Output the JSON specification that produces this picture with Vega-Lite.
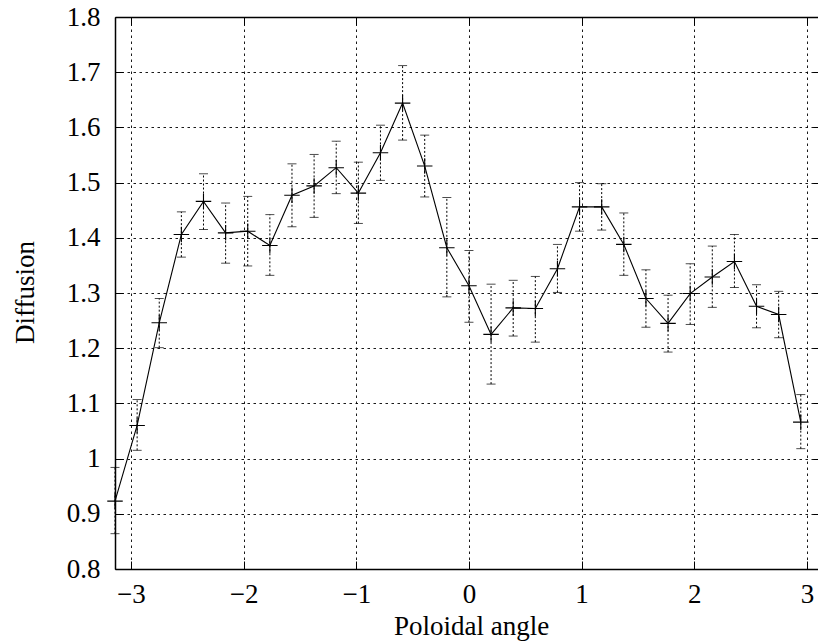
{
  "$schema": "https://vega.github.io/schema/vega-lite/v6.json",
  "width": 703,
  "height": 552,
  "autosize": {"type": "none"},
  "padding": {"left": 115, "top": 17, "right": 0, "bottom": 73},
  "background": "white",
  "config": {
    "view": {"stroke": null},
    "font": "Liberation Serif",
    "axis": {
      "labelFont": "Liberation Serif",
      "labelFontSize": 27,
      "labelColor": "black",
      "titleFont": "Liberation Serif",
      "titleFontSize": 27,
      "titleFontWeight": "normal",
      "titleColor": "black",
      "domainColor": "black",
      "domainWidth": 1.5,
      "tickColor": "black",
      "tickWidth": 1,
      "gridColor": "black",
      "gridWidth": 1,
      "gridOpacity": 0.9,
      "gridDash": [2.5, 3.5],
      "labelOverlap": false,
      "labelFlush": false,
      "labelBound": false
    }
  },
  "data": {
    "values": [
      {"x": -3.1416, "y": 0.923, "lo": 0.864, "hi": 0.984},
      {"x": -2.9452, "y": 1.060, "lo": 1.015, "hi": 1.107},
      {"x": -2.7489, "y": 1.246, "lo": 1.201, "hi": 1.290},
      {"x": -2.5525, "y": 1.406, "lo": 1.365, "hi": 1.447},
      {"x": -2.3562, "y": 1.466, "lo": 1.415, "hi": 1.516},
      {"x": -2.1598, "y": 1.409, "lo": 1.354, "hi": 1.463},
      {"x": -1.9635, "y": 1.412, "lo": 1.349, "hi": 1.475},
      {"x": -1.7671, "y": 1.386, "lo": 1.332, "hi": 1.442},
      {"x": -1.5708, "y": 1.477, "lo": 1.420, "hi": 1.534},
      {"x": -1.3744, "y": 1.494, "lo": 1.437, "hi": 1.551},
      {"x": -1.1781, "y": 1.527, "lo": 1.480, "hi": 1.575},
      {"x": -0.9817, "y": 1.481, "lo": 1.426, "hi": 1.537},
      {"x": -0.7854, "y": 1.554, "lo": 1.504, "hi": 1.604},
      {"x": -0.5890, "y": 1.644, "lo": 1.577, "hi": 1.712},
      {"x": -0.3927, "y": 1.530, "lo": 1.474, "hi": 1.586},
      {"x": -0.1963, "y": 1.382, "lo": 1.293, "hi": 1.473},
      {"x": 0.0, "y": 1.313, "lo": 1.247, "hi": 1.377},
      {"x": 0.1963, "y": 1.225, "lo": 1.135, "hi": 1.316},
      {"x": 0.3927, "y": 1.273, "lo": 1.222, "hi": 1.323},
      {"x": 0.5890, "y": 1.272, "lo": 1.211, "hi": 1.330},
      {"x": 0.7854, "y": 1.344, "lo": 1.301, "hi": 1.388},
      {"x": 0.9817, "y": 1.456, "lo": 1.412, "hi": 1.500},
      {"x": 1.1781, "y": 1.456, "lo": 1.414, "hi": 1.498},
      {"x": 1.3744, "y": 1.388, "lo": 1.332, "hi": 1.445},
      {"x": 1.5708, "y": 1.290, "lo": 1.238, "hi": 1.342},
      {"x": 1.7671, "y": 1.245, "lo": 1.193, "hi": 1.296},
      {"x": 1.9635, "y": 1.299, "lo": 1.243, "hi": 1.353},
      {"x": 2.1598, "y": 1.329, "lo": 1.274, "hi": 1.385},
      {"x": 2.3562, "y": 1.357, "lo": 1.310, "hi": 1.406},
      {"x": 2.5525, "y": 1.276, "lo": 1.237, "hi": 1.315},
      {"x": 2.7489, "y": 1.261, "lo": 1.219, "hi": 1.303},
      {"x": 2.9452, "y": 1.066, "lo": 1.018, "hi": 1.116}
    ]
  },
  "layer": [
    {
      "mark": {
        "type": "errorbar",
        "color": "black",
        "ticks": {"size": 9, "strokeDash": [2, 2], "strokeWidth": 1},
        "rule": {"strokeDash": [2, 2], "strokeWidth": 1}
      },
      "encoding": {
        "x": {
          "field": "x", "type": "quantitative",
          "scale": {"domain": [-3.1416, 3.098], "nice": false, "zero": false},
          "axis": {
            "orient": "bottom",
            "values": [-3, -2, -1, 0, 1, 2, 3],
            "format": "~g",
            "title": "Poloidal angle",
            "grid": true,
            "tickSize": -8,
            "labelPadding": 20,
            "labelBaseline": "top",
            "labelFont": "Liberation Serif",
            "labelFontSize": 27,
            "titleFont": "Liberation Serif",
            "titleFontSize": 27,
            "titleBaseline": "top",
            "titleX": 356,
            "titleY": 44
          }
        },
        "y": {
          "field": "lo", "type": "quantitative",
          "scale": {"domain": [0.8, 1.8], "nice": false, "zero": false},
          "axis": {
            "orient": "left",
            "values": [0.8, 0.9, 1.0, 1.1, 1.2, 1.3, 1.4, 1.5, 1.6, 1.7, 1.8],
            "format": "~g",
            "title": "Diffusion",
            "grid": true,
            "tickSize": -8,
            "labelPadding": 23,
            "labelFont": "Liberation Serif",
            "labelFontSize": 27,
            "titleFont": "Liberation Serif",
            "titleFontSize": 27,
            "titleBaseline": "alphabetic",
            "titleX": -82,
            "titleY": 275
          }
        },
        "y2": {"field": "hi"}
      }
    },
    {
      "mark": {"type": "line", "color": "black", "strokeWidth": 1.1},
      "encoding": {
        "x": {
          "field": "x", "type": "quantitative",
          "scale": {"domain": [-3.1416, 3.098], "nice": false, "zero": false},
          "axis": {
            "orient": "top",
            "values": [-3, -2, -1, 0, 1, 2, 3],
            "labels": false,
            "grid": false,
            "title": null,
            "tickSize": -8
          }
        },
        "y": {
          "field": "y", "type": "quantitative",
          "scale": {"domain": [0.8, 1.8], "nice": false, "zero": false},
          "axis": {
            "orient": "right",
            "values": [0.8, 0.9, 1.0, 1.1, 1.2, 1.3, 1.4, 1.5, 1.6, 1.7, 1.8],
            "labels": false,
            "domain": false,
            "grid": false,
            "title": null,
            "tickSize": -5
          }
        }
      }
    },
    {
      "mark": {
        "type": "point",
        "shape": "M-1,0L1,0M0,-1L0,1",
        "size": 240,
        "stroke": "black",
        "strokeWidth": 1.1,
        "filled": false,
        "opacity": 1
      },
      "encoding": {
        "x": {"field": "x", "type": "quantitative", "axis": null},
        "y": {"field": "y", "type": "quantitative", "axis": null}
      }
    }
  ],
  "resolve": {"axis": {"x": "independent", "y": "independent"}}
}
